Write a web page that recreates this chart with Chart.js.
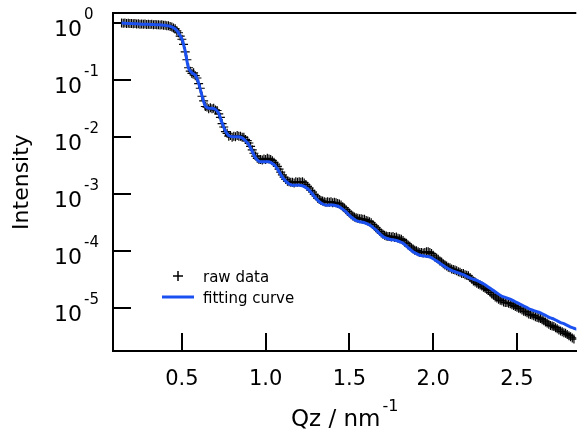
<!DOCTYPE html>
<html>
<head>
<meta charset="utf-8">
<script src="https://cdn.jsdelivr.net/npm/chart.js@4.4.0/dist/chart.umd.min.js"></script>
<style>
html, body { margin: 0; padding: 0; background: #fff; }
#wrap { width: 582px; height: 436px; }
</style>
</head>
<body>
<div id="wrap"><canvas id="grafico"></canvas></div>
<script>
// raw data: Qz starts at 0.14 nm-1, step 0.01; values are log10(intensity)
const rawStart = 0.14
const rawStep  = 0.01
const rawLogI  = [
  -0.004, -0.009, -0.006, -0.014, -0.010, -0.016, -0.012, -0.019, -0.015, -0.022,
  -0.018, -0.025, -0.021, -0.028, -0.024, -0.030, -0.027, -0.033, -0.029, -0.035,
  -0.031, -0.038, -0.034, -0.041, -0.038, -0.045, -0.044, -0.053, -0.054, -0.066,
  -0.074, -0.094, -0.108, -0.142, -0.176, -0.235, -0.29, -0.38, -0.51, -0.65,
  -0.79, -0.85, -0.89, -0.88, -0.93, -0.97, -1.07, -1.15, -1.29, -1.37,
  -1.47, -1.48, -1.51, -1.49, -1.51, -1.50, -1.53, -1.54, -1.60, -1.66,
  -1.77, -1.83, -1.91, -1.94, -1.99, -1.98, -2.01, -1.99, -2.00, -1.98,
  -1.99, -1.99, -2.01, -2.01, -2.05, -2.07, -2.11, -2.17, -2.23, -2.29,
  -2.34, -2.38, -2.40, -2.40, -2.41, -2.39, -2.40, -2.38, -2.39, -2.40,
  -2.42, -2.45, -2.48, -2.52, -2.57, -2.62, -2.67, -2.71, -2.75, -2.78,
  -2.79, -2.80, -2.80, -2.81, -2.79, -2.80, -2.79, -2.80, -2.79, -2.81,
  -2.84, -2.87, -2.90, -2.94, -2.97, -3.01, -3.04, -3.08, -3.10, -3.12,
  -3.13, -3.14, -3.15, -3.14, -3.15, -3.14, -3.16, -3.15, -3.16, -3.17,
  -3.18, -3.20, -3.23, -3.25, -3.28, -3.31, -3.34, -3.37, -3.39, -3.41,
  -3.42, -3.43, -3.44, -3.44, -3.45, -3.45, -3.47, -3.48, -3.49, -3.51,
  -3.54, -3.57, -3.60, -3.63, -3.66, -3.69, -3.71, -3.73, -3.74, -3.75,
  -3.75, -3.76, -3.75, -3.77, -3.76, -3.78, -3.79, -3.80, -3.82, -3.85,
  -3.87, -3.90, -3.92, -3.95, -3.97, -3.99, -4.00, -4.02, -4.03, -4.03,
  -4.04, -4.03, -4.02, -4.02, -4.03, -4.05, -4.08, -4.11, -4.13, -4.15,
  -4.18, -4.20, -4.23, -4.25, -4.27, -4.29, -4.30, -4.32, -4.33, -4.34,
  -4.35, -4.37, -4.38, -4.40, -4.40, -4.42, -4.43, -4.44, -4.47, -4.50,
  -4.53, -4.55, -4.57, -4.59, -4.60, -4.62, -4.64, -4.66, -4.68, -4.70,
  -4.73, -4.76, -4.78, -4.81, -4.83, -4.85, -4.87, -4.88, -4.90, -4.91,
  -4.91, -4.92, -4.93, -4.95, -4.96, -4.98, -4.99, -5.01, -5.02, -5.04,
  -5.06, -5.07, -5.09, -5.11, -5.12, -5.13, -5.14, -5.16, -5.17, -5.18,
  -5.19, -5.21, -5.23, -5.25, -5.27, -5.29, -5.31, -5.32, -5.33, -5.35,
  -5.37, -5.39, -5.41, -5.42, -5.44, -5.45, -5.47, -5.49, -5.51, -5.53, -5.55
]

// fitting curve: Qz starts at 0.14 nm-1, step 0.02; values are log10(intensity)
const fitStart = 0.14
const fitStep  = 0.02
const fitLogI  = [
  -0.005, -0.010, -0.013, -0.015, -0.018, -0.021, -0.025, -0.027, -0.029, -0.032,
  -0.034, -0.037, -0.040, -0.046, -0.055, -0.075, -0.11, -0.18, -0.28, -0.50,
  -0.80, -0.88, -0.92, -1.06, -1.28, -1.46, -1.50, -1.50, -1.52, -1.59,
  -1.76, -1.90, -1.98, -2.00, -2.00, -2.00, -2.02, -2.07, -2.14, -2.26,
  -2.37, -2.43, -2.44, -2.44, -2.44, -2.47, -2.52, -2.61, -2.71, -2.78,
  -2.83, -2.85, -2.85, -2.85, -2.86, -2.89, -2.94, -3.01, -3.08, -3.14,
  -3.18, -3.20, -3.20, -3.20, -3.21, -3.23, -3.27, -3.32, -3.38, -3.43,
  -3.47, -3.49, -3.50, -3.52, -3.55, -3.59, -3.64, -3.70, -3.75, -3.78,
  -3.80, -3.81, -3.82, -3.84, -3.87, -3.92, -3.97, -4.02, -4.05, -4.08,
  -4.09, -4.10, -4.11, -4.14, -4.18, -4.22, -4.26, -4.30, -4.33, -4.36,
  -4.38, -4.40, -4.42, -4.45, -4.48, -4.50, -4.52, -4.55, -4.58, -4.62,
  -4.66, -4.70, -4.74, -4.78, -4.81, -4.83, -4.85, -4.88, -4.91, -4.94,
  -4.97, -5.00, -5.03, -5.05, -5.07, -5.09, -5.12, -5.15, -5.18, -5.20,
  -5.23, -5.26, -5.28, -5.31, -5.34, -5.36, -5.38
]

const xTicks     = [0.5, 1.0, 1.5, 2.0, 2.5]
const yExponents = [0, -1, -2, -3, -4, -5]
const legendRaw  = "raw data"
const legendFit  = "fitting curve"

const FONT = '"DejaVu Sans", sans-serif'

const toPoints = function (start, step, logs) {
    return logs.map((v, i) => ({ x: +(start + i * step).toFixed(2), y: Math.pow(10, v) }))
}

// labels with superscripts, top border and legend
const decoracao = {
    id: 'decoracao',
    afterDraw(chart) {
        const { ctx, chartArea, scales } = chart
        ctx.save()
        ctx.strokeStyle = '#000'
        ctx.lineWidth = 2
        ctx.beginPath()
        ctx.moveTo(chartArea.left - 1, chartArea.top)
        ctx.lineTo(chartArea.right, chartArea.top)
        ctx.stroke()

        ctx.fillStyle = '#000'
        ctx.textBaseline = 'alphabetic'
        yExponents.forEach((e) => {
            const py = scales.y.getPixelForValue(Math.pow(10, e))
            ctx.font = '22px ' + FONT
            ctx.textAlign = 'right'
            ctx.fillText('10', chartArea.left - 31, py + 13)
            ctx.font = '15px ' + FONT
            ctx.textAlign = 'left'
            ctx.fillText(e === 0 ? '0' : '-' + (-e), chartArea.left - 29, py - 4)
        })

        // x axis title
        const cx = (chartArea.left + chartArea.right) / 2
        ctx.font = '23px ' + FONT
        const main = 'Qz / nm'
        const wMain = ctx.measureText(main).width
        ctx.font = '16px ' + FONT
        const wSup = ctx.measureText('-1').width
        const x0 = cx - (wMain + wSup + 2) / 2
        ctx.font = '23px ' + FONT
        ctx.textAlign = 'left'
        ctx.fillText(main, x0, 426)
        ctx.font = '16px ' + FONT
        ctx.fillText('-1', x0 + wMain + 2, 411)

        // legend
        const lx = chartArea.left
        ctx.lineWidth = 1.5
        ctx.beginPath()
        ctx.moveTo(lx + 60, 276); ctx.lineTo(lx + 70, 276)
        ctx.moveTo(lx + 65, 271); ctx.lineTo(lx + 65, 281)
        ctx.stroke()
        ctx.strokeStyle = '#1a50f0'
        ctx.lineWidth = 3
        ctx.beginPath()
        ctx.moveTo(lx + 49, 297); ctx.lineTo(lx + 81, 297)
        ctx.stroke()
        ctx.font = '15px ' + FONT
        ctx.fillText(legendRaw, lx + 90, 282)
        ctx.fillText(legendFit, lx + 90, 303)
        ctx.restore()
    }
}

const canvas = document.getElementById('grafico')

new Chart(canvas, {
    type: 'scatter',
    data: {
        datasets: [
            {
                label: legendFit,
                data: toPoints(fitStart, fitStep, fitLogI),
                showLine: true,
                borderColor: '#1a50f0',
                borderWidth: 3,
                pointRadius: 0,
                tension: 0.3
            },
            {
                label: legendRaw,
                data: toPoints(rawStart, rawStep, rawLogI),
                showLine: false,
                pointStyle: 'cross',
                pointRadius: 4.5,
                borderColor: '#000',
                borderWidth: 1.2,
                backgroundColor: '#000'
            }
        ]
    },
    options: {
        responsive: true,
        maintainAspectRatio: false,
        animation: false,
        devicePixelRatio: 1,
        layout: { padding: { top: 13, left: 0, right: 0, bottom: 0 } },
        plugins: { legend: { display: false }, tooltip: { enabled: false } },
        scales: {
            x: {
                type: 'linear',
                min: 0.089,
                max: 2.854,
                afterBuildTicks: (scale) => { scale.ticks = xTicks.map((v) => ({ value: v })) },
                afterFit: (scale) => { scale.height = 85 },
                border: { display: true, color: '#000', width: 2 },
                grid: { display: true, drawOnChartArea: false, drawTicks: true, tickLength: -18, color: '#000', lineWidth: 2 },
                ticks: {
                    autoSkip: false,
                    maxRotation: 0,
                    padding: 34,
                    color: '#000',
                    font: { family: FONT, size: 21 },
                    callback: (v) => Number(v).toFixed(1)
                }
            },
            y: {
                type: 'logarithmic',
                min: 1.74e-6,
                max: 1.48,
                afterBuildTicks: (scale) => { scale.ticks = yExponents.map((e) => ({ value: Math.pow(10, e) })) },
                afterFit: (scale) => { scale.width = 113 },
                border: { display: true, color: '#000', width: 2 },
                grid: { display: true, drawOnChartArea: false, drawTicks: true, tickLength: -18, color: '#000', lineWidth: 2 },
                ticks: { display: false },
                title: {
                    display: true,
                    text: 'Intensity',
                    color: '#000',
                    font: { family: FONT, size: 22 },
                    padding: { top: 9, bottom: 0 }
                }
            }
        }
    },
    plugins: [decoracao]
})
</script>
</body>
</html>
